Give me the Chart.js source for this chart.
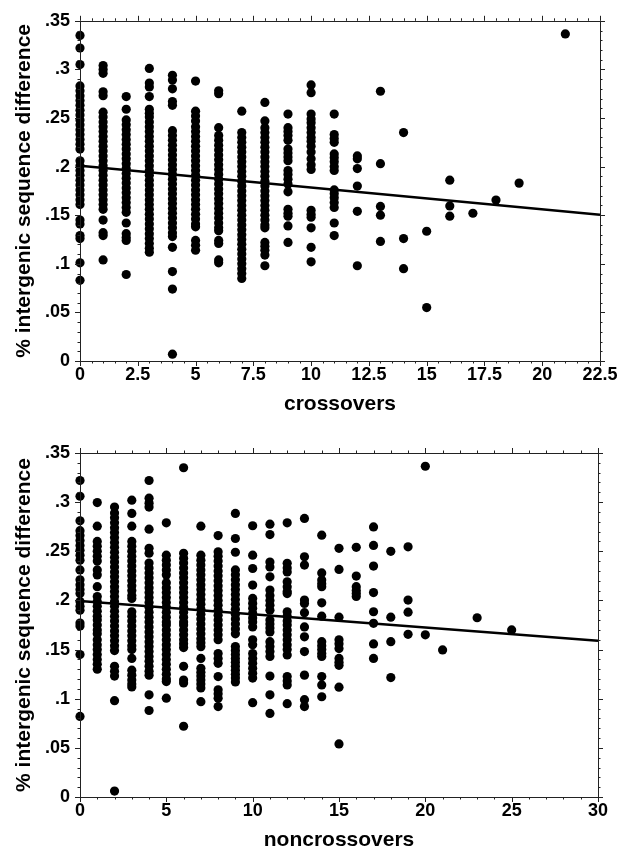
<!DOCTYPE html>
<html>
<head>
<meta charset="utf-8">
<script src="https://cdn.jsdelivr.net/npm/chart.js@4.4.1/dist/chart.umd.min.js"></script>
<style>
  body { margin: 0; background: #fff; }
  .box { position: absolute; left: 0; width: 629px; }
</style>
</head>
<body>
<div class="box" style="top:0;height:420px"><canvas id="crossChart"></canvas></div>
<div class="box" style="top:420px;height:431px"><canvas id="noncrossChart"></canvas></div>
<script>
// crossovers panel: x value of each column and the y values
var crossCounts = [0, 1, 2, 3, 4, 5, 6, 7, 8, 9, 10, 11, 12, 13, 14, 15, 16, 17, 18, 19, 21];
var crossValues = [
  [.335,.322,.305,.283,.278,.273,.268,.263,.258,.253,.248,.243,.238,.233,.228,.223,.218,.206,.201,.196,.191,.186,.181,.176,.171,.166,.161,.145,.141,.129,.126,.101,.083],
  [.304,.300,.296,.277,.273,.256,.251,.246,.241,.236,.231,.226,.221,.216,.211,.206,.201,.196,.191,.186,.181,.176,.171,.166,.161,.156,.145,.132,.129,.104],
  [.272,.259,.248,.243,.238,.233,.228,.223,.218,.213,.208,.203,.198,.193,.188,.183,.178,.173,.168,.163,.158,.153,.142,.131,.127,.124,.089],
  [.301,.286,.282,.272,.259,.255,.251,.246,.241,.236,.231,.226,.221,.216,.211,.206,.201,.196,.191,.186,.181,.176,.171,.166,.161,.156,.151,.146,.141,.136,.131,.126,.121,.116,.112],
  [.294,.289,.280,.267,.263,.237,.232,.227,.222,.217,.212,.207,.202,.197,.192,.187,.182,.177,.172,.167,.162,.157,.152,.147,.142,.137,.132,.128,.117,.092,.074,.007],
  [.288,.257,.252,.247,.241,.236,.231,.226,.221,.216,.211,.206,.201,.196,.191,.186,.181,.176,.171,.166,.161,.156,.151,.146,.141,.138,.124,.119,.114],
  [.278,.275,.240,.232,.227,.222,.217,.212,.207,.202,.197,.192,.187,.182,.177,.172,.167,.162,.157,.152,.147,.142,.137,.134,.124,.121,.104,.101],
  [.257,.235,.230,.225,.220,.215,.210,.205,.200,.195,.190,.185,.180,.175,.170,.165,.160,.155,.150,.145,.140,.135,.130,.125,.120,.115,.110,.105,.100,.095,.090,.085],
  [.266,.247,.240,.235,.230,.225,.220,.215,.210,.205,.200,.195,.190,.185,.180,.175,.170,.165,.160,.155,.150,.145,.140,.137,.122,.118,.114,.109,.098],
  [.254,.240,.236,.232,.227,.218,.214,.210,.206,.196,.192,.187,.182,.174,.156,.152,.149,.139,.122],
  [.284,.276,.254,.249,.245,.240,.235,.230,.226,.221,.215,.208,.202,.197,.155,.151,.148,.137,.117,.102],
  [.254,.233,.229,.225,.213,.209,.205,.200,.196,.176,.172,.168,.163,.158,.142,.129],
  [.211,.208,.198,.180,.154,.098],
  [.2775,.203,.159,.150,.123],
  [.235,.126,.095],
  [.1335,.055],
  [.186,.1595,.149],
  [.152],
  [.1656],
  [.183],
  [.3365]
];
var crossFit = [0.201, 0.1505]; // fitted line at x = 0 and x = 22.5
var crossTicks = [0, 2.5, 5, 7.5, 10, 12.5, 15, 17.5, 20, 22.5];
var crossTickLabels = ['0', '2.5', '5', '7.5', '10', '12.5', '15', '17.5', '20', '22.5'];

// noncrossovers panel
var noncrossCounts = [0, 1, 2, 3, 4, 5, 6, 7, 8, 9, 10, 11, 12, 13, 14, 15, 16, 17, 18, 19, 20, 21, 23, 25];
var noncrossValues = [
  [.322,.306,.281,.271,.266,.261,.256,.251,.246,.241,.231,.221,.216,.211,.207,.199,.194,.190,.177,.174,.145,.082],
  [.2996,.2755,.260,.255,.250,.245,.240,.231,.226,.214,.204,.199,.194,.189,.184,.180,.175,.170,.166,.160,.155,.150,.145,.140,.135,.130],
  [.295,.289,.284,.279,.274,.269,.264,.259,.254,.249,.244,.239,.234,.229,.224,.219,.214,.209,.204,.199,.194,.189,.184,.179,.174,.169,.164,.159,.154,.149,.133,.128,.123,.098,.006],
  [.302,.2885,.2755,.260,.255,.250,.245,.240,.235,.230,.225,.220,.215,.210,.205,.202,.1885,.184,.179,.174,.169,.164,.159,.154,.150,.141,.129,.124,.119,.115,.112],
  [.322,.304,.299,.295,.2725,.253,.248,.238,.233,.228,.223,.218,.213,.208,.203,.198,.193,.188,.183,.178,.173,.168,.163,.158,.153,.148,.143,.138,.133,.128,.124,.104,.088],
  [.279,.246,.241,.236,.231,.226,.218,.213,.208,.203,.198,.193,.188,.183,.178,.175,.170,.165,.160,.155,.150,.145,.140,.135,.130,.125,.120,.1174,.1005],
  [.335,.248,.243,.238,.233,.228,.223,.218,.213,.208,.203,.198,.193,.188,.183,.178,.175,.170,.165,.160,.156,.152,.133,.119,.116,.072],
  [.2755,.246,.241,.236,.231,.226,.221,.216,.211,.206,.201,.196,.191,.186,.181,.176,.171,.166,.161,.157,.153,.141,.131,.127,.123,.119,.115,.111,.097],
  [.266,.2495,.245,.240,.235,.230,.225,.220,.215,.210,.205,.200,.195,.190,.185,.180,.175,.170,.165,.160,.146,.141,.136,.1225,.109,.105,.1005,.092],
  [.2885,.263,.249,.231,.226,.221,.216,.211,.206,.201,.196,.191,.186,.181,.176,.171,.166,.153,.149,.145,.141,.137,.133,.129,.125,.121,.117],
  [.276,.246,.2325,.2156,.202,.197,.192,.187,.182,.178,.173,.160,.155,.146,.141,.136,.131,.126,.121,.096],
  [.2776,.267,.239,.234,.224,.2105,.205,.200,.195,.190,.180,.176,.172,.168,.158,.153,.148,.143,.123,.104,.085],
  [.279,.2377,.233,.229,.219,.214,.209,.207,.1885,.184,.179,.175,.170,.165,.160,.155,.150,.1445,.1225,.118,.114,.095],
  [.2834,.2444,.236,.2004,.197,.1875,.173,.163,.148,.124,.099,.092],
  [.2664,.228,.2207,.217,.214,.1976,.184,.158,.154,.150,.146,.143,.1225,.114,.102],
  [.253,.2315,.183,.160,.156,.151,.141,.137,.134,.1117,.054],
  [.254,.2248,.214,.210,.207,.204],
  [.2748,.256,.235,.208,.1885,.1767,.1557,.141],
  [.250,.183,.158,.1215],
  [.2545,.2004,.188,.1655],
  [.3365,.165],
  [.1496],
  [.1824],
  [.17]
];
var noncrossFit = [0.1994, 0.159]; // fitted line at x = 0 and x = 30
var noncrossTicks = [0, 5, 10, 15, 20, 25, 30];
var noncrossTickLabels = ['0', '5', '10', '15', '20', '25', '30'];

var yTicks = [0, .05, .1, .15, .2, .25, .3, .35];
var yTickLabels = ['0', '.05', '.1', '.15', '.2', '.25', '.3', '.35'];

Chart.defaults.font.family = "'Liberation Sans', Arial, sans-serif";
Chart.defaults.color = '#000';

// frame on all four sides with outward major and minor ticks
var framePlugin = {
  id: 'frame',
  afterDraw: function (chart, args, opts) {
    var ctx = chart.ctx, a = chart.chartArea;
    var xs = chart.scales.x, ys = chart.scales.y;
    ctx.save();
    ctx.strokeStyle = '#222';
    ctx.lineWidth = 1;
    ctx.strokeRect(Math.round(a.left) + 0.5, Math.round(a.top) + 0.5,
      Math.round(a.right - a.left), Math.round(a.bottom - a.top));
    ctx.beginPath();
    var v, p, len;
    for (v = xs.min; v <= xs.max + 1e-9; v += opts.xMinor) {
      len = Math.abs(v / opts.xMajor - Math.round(v / opts.xMajor)) < 1e-6 ? 5 : 2.5;
      p = Math.round(xs.getPixelForValue(v)) + 0.5;
      ctx.moveTo(p, a.top); ctx.lineTo(p, a.top - len);
      ctx.moveTo(p, a.bottom); ctx.lineTo(p, a.bottom + len);
    }
    for (v = 0; v <= 0.35 + 1e-9; v += 0.01) {
      len = Math.abs(v / 0.05 - Math.round(v / 0.05)) < 1e-6 ? 5 : 2.5;
      p = Math.round(ys.getPixelForValue(v)) + 0.5;
      ctx.moveTo(a.left, p); ctx.lineTo(a.left - len, p);
      ctx.moveTo(a.right, p); ctx.lineTo(a.right + len, p);
    }
    ctx.stroke();
    ctx.restore();
  }
};

function makeChart(id, counts, values, fit, xTicks, xLabels, xTitle, xMinor, pad, xAxisHeight, xTitlePad) {
  var pts = [];
  counts.forEach(function (c, i) {
    values[i].forEach(function (y) { pts.push({ x: c, y: y }); });
  });
  var xMax = xTicks[xTicks.length - 1];
  return new Chart(document.getElementById(id), {
    type: 'scatter',
    data: {
      datasets: [
        {
          data: pts,
          pointRadius: 4.6,
          pointBackgroundColor: '#000',
          pointBorderWidth: 0,
          clip: false
        },
        {
          type: 'line',
          data: [{ x: 0, y: fit[0] }, { x: xMax, y: fit[1] }],
          borderColor: '#000',
          borderWidth: 2.5,
          pointRadius: 0,
          fill: false
        }
      ]
    },
    options: {
      responsive: true,
      maintainAspectRatio: false,
      animation: false,
      layout: { padding: pad },
      plugins: {
        legend: { display: false },
        tooltip: { enabled: false },
        frame: { xMajor: xTicks[1] - xTicks[0], xMinor: xMinor }
      },
      scales: {
        x: {
          type: 'linear',
          min: 0,
          max: xMax,
          afterBuildTicks: function (s) { s.ticks = xTicks.map(function (v) { return { value: v }; }); },
          afterFit: function (s) { s.height = xAxisHeight; },
          ticks: {
            autoSkip: false,
            maxRotation: 0,
            padding: 3,
            font: { size: 18, weight: 'bold' },
            callback: function (v, i) { return xLabels[i]; }
          },
          grid: { drawOnChartArea: false, drawTicks: false },
          border: { display: false },
          title: {
            display: true,
            text: xTitle,
            font: { size: 21, weight: 'bold' },
            padding: { top: 0, bottom: xTitlePad }
          }
        },
        y: {
          type: 'linear',
          min: 0,
          max: 0.35,
          afterBuildTicks: function (s) { s.ticks = yTicks.map(function (v) { return { value: v }; }); },
          afterFit: function (s) { s.width = 80; },
          ticks: {
            autoSkip: false,
            padding: 10,
            font: { size: 18, weight: 'bold' },
            callback: function (v, i) { return yTickLabels[i]; }
          },
          grid: { drawOnChartArea: false, drawTicks: false },
          border: { display: false },
          title: {
            display: true,
            text: '% intergenic sequence difference',
            font: { size: 21, weight: 'bold' },
            padding: { top: 12, bottom: 0 }
          }
        }
      }
    },
    plugins: [framePlugin]
  });
}

makeChart('crossChart', crossCounts, crossValues, crossFit, crossTicks, crossTickLabels,
  'crossovers', 0.5, { top: 15, right: 29, left: 0, bottom: 0 }, 59, 3);
makeChart('noncrossChart', noncrossCounts, noncrossValues, noncrossFit, noncrossTicks, noncrossTickLabels,
  'noncrossovers', 1, { top: 33, right: 31, left: 0, bottom: 0 }, 54, -2);
</script>
</body>
</html>
